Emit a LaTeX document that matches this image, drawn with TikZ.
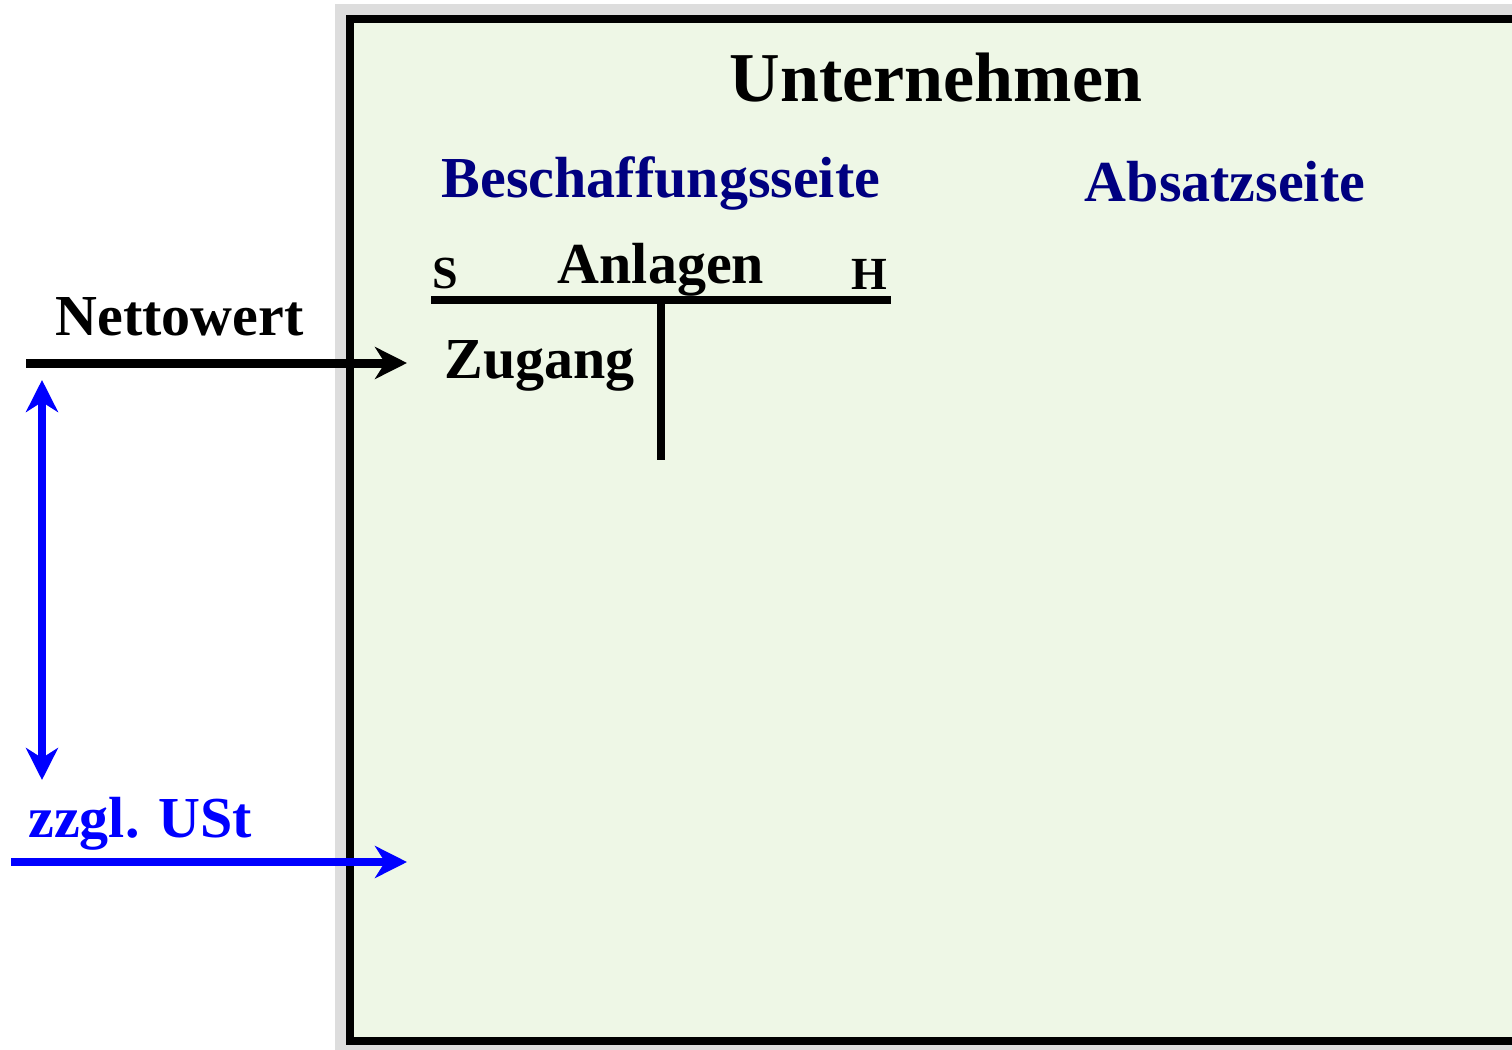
\documentclass[tikz,border=0pt]{standalone}
\usepackage{fontspec}
\setmainfont{Liberation Serif}
\usetikzlibrary{arrows.meta}
\definecolor{boxgreen}{RGB}{238,247,230}
\definecolor{shadowgray}{RGB}{221,221,221}
\definecolor{sidenavy}{RGB}{0,0,128}
\begin{document}
\begin{tikzpicture}[x=0.5pt, y=-0.5pt, >={Stealth[length=16pt, width=16pt, inset=5pt]},
    every node/.style={inner sep=0pt, font=\bfseries\fontsize{29}{34}\selectfont},
    bigtext/.style={font=\bfseries\fontsize{35}{40}\selectfont},
    smalltext/.style={font=\bfseries\fontsize{23}{27}\selectfont}]
    \useasboundingbox (0,0) rectangle (1512,1050);
    
    % 1. Unternehmen (Kasten)
    \fill[shadowgray] (335,4) rectangle (1512,1050);
    \draw[line width=4pt, fill=boxgreen] (350,19) rectangle (1530,1041);
    
    % 2. Überschriften
    \node[bigtext, anchor=base] (firm) at (936,101) {Unternehmen};
    \node[anchor=base, text=sidenavy] (procure) at (661,197) {Beschaffungsseite};
    \node[anchor=base, text=sidenavy] (sales) at (1225,201) {Absatzseite};
    
    % 3. T-Konto
    \coordinate (accL) at (431,300);
    \coordinate (accR) at (891,300);
    \coordinate (accM) at (661,300);
    \coordinate (accB) at (661,460);
    \draw[line width=4pt] (accL) -- (accR);
    \draw[line width=4pt] (accM) -- (accB);
    \node[anchor=base] (account) at (661,283) {Anlagen};
    \node[smalltext, anchor=base west] (debit) at (432,288) {S};
    \node[smalltext, anchor=base east] (credit) at (888,289) {H};
    \node[anchor=base west] (entry) at (444,378) {Zugang};
    
    % 4. Zufluss: Nettowert und USt
    \node[anchor=base west] (net) at (55,335) {Nettowert};
    \coordinate (netS) at (26,363);
    \coordinate (netE) at (407,363);
    \draw[->, line width=4.5pt] (netS) -- (netE);
    
    \coordinate (vatTop) at (42,380);
    \coordinate (vatBot) at (42,780);
    \draw[<->, blue, line width=4pt] (vatTop) -- (vatBot);
    
    \node[anchor=base west, text=blue] (vat) at (28,837) {zzgl. USt};
    \coordinate (vatS) at (11,862);
    \coordinate (vatE) at (407,862);
    \draw[->, blue, line width=4pt] (vatS) -- (vatE);
\end{tikzpicture}
\end{document}
